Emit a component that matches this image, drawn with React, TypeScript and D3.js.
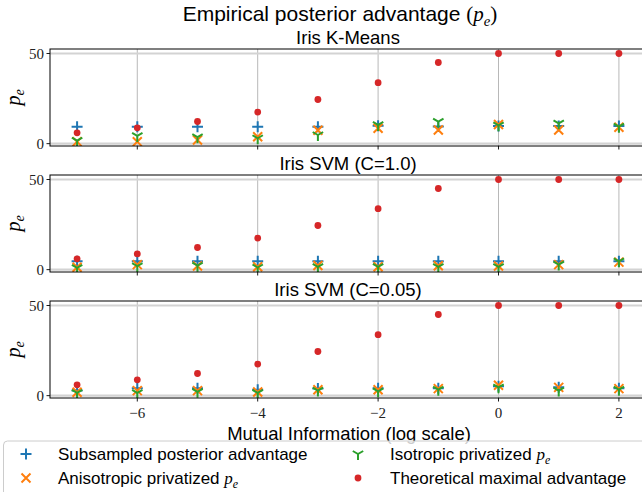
import React from 'react';
import * as d3 from 'd3';

// mutual information (log scale) on x
const xValues = [-7, -6, -5, -4, -3, -2, -1, 0, 1, 2];
const xTicks = [-6, -4, -2, 0, 2];
const yTicks = [0, 50];

const panelTitles = ['Iris K-Means', 'Iris SVM (C=1.0)', 'Iris SVM (C=0.05)'];

// theoretical maximal advantage (same for every panel)
const theoretical = [6.0, 8.8, 12.3, 17.5, 24.5, 33.8, 45.0, 50, 50, 50];

const subsampledKMeans = [9.4, 9.4, 9.4, 9.4, 9.4, 9.9, 9.5, 9.8, 9.8, 9.8];
const anisoKMeans = [1.1, 1.1, 2.0, 3.8, 7.4, 8.5, 7.6, 10.6, 7.6, 9.1];
const isoKMeans = [1.7, 4.3, 3.6, 3.0, 4.8, 10.4, 12.2, 10.2, 11.3, 9.4];

const subsampledSvm1 = [4.6, 4.6, 4.6, 4.6, 4.6, 4.6, 4.6, 4.6, 4.6, 4.6];
const anisoSvm1 = [1.3, 2.8, 2.0, 1.6, 2.3, 1.6, 2.2, 2.0, 2.8, 4.2];
const isoSvm1 = [1.0, 2.0, 2.2, 1.2, 1.6, 1.6, 1.6, 1.6, 2.8, 4.6];

const subsampledSvm005 = [2.8, 4.1, 4.1, 3.3, 3.9, 4.1, 4.1, 5.2, 4.6, 4.1];
const anisoSvm005 = [1.9, 2.8, 2.8, 2.0, 3.3, 3.3, 3.9, 5.8, 4.6, 3.9];
const isoSvm005 = [1.5, 1.5, 2.1, 1.5, 2.8, 2.4, 3.3, 4.6, 2.8, 3.3];

const panels = [
  { title: panelTitles[0], sub: subsampledKMeans, aniso: anisoKMeans, iso: isoKMeans },
  { title: panelTitles[1], sub: subsampledSvm1, aniso: anisoSvm1, iso: isoSvm1 },
  { title: panelTitles[2], sub: subsampledSvm005, aniso: anisoSvm005, iso: isoSvm005 },
];

const W = 642;
const H = 492;
const left = 50;
const right = 646;
const panelTops = [49, 175, 301];
const panelH = 97;

const BLUE = '#1f77b4';
const ORANGE = '#ff7f0e';
const GREEN = '#2ca02c';
const RED = '#d62728';

const sans = '"Liberation Sans", Arial, Helvetica, sans-serif';
const serif = '"Liberation Serif", "DejaVu Serif", serif';

const plusPath = 'M-5.5,0H5.5M0,-5.5V5.5';
const xPath = 'M-4.5,-4.5L4.5,4.5M-4.5,4.5L4.5,-4.5';
const triPath = 'M0,0V6M0,0L-5.2,-3M0,0L5.2,-3';

function PE({ size }: { size: number }) {
  return (
    <>
      <tspan fontFamily={serif} fontStyle="italic">p</tspan>
      <tspan fontFamily={serif} fontStyle="italic" fontSize={size * 0.7} dy={size * 0.22}>e</tspan>
    </>
  );
}

function Panel({ p, top, bottomLabels }: any) {
  const x = d3.scaleLinear().domain([-7.45, 2.45]).range([left, right]);
  const y = d3.scaleLinear().domain([-1.3, 52.5]).range([top + panelH, top]);
  const bottom = top + panelH;
  return (
    <g>
      <defs>
        <clipPath id={'clip' + top}>
          <rect x={left} y={top} width={right - left} height={panelH} />
        </clipPath>
      </defs>
      {/* grid */}
      {xTicks.map((t) => (
        <line key={'gx' + t} x1={x(t)} x2={x(t)} y1={top} y2={bottom} stroke="#b0b0b0" strokeWidth={0.9} />
      ))}
      {yTicks.map((t) => (
        <line key={'gy' + t} x1={left} x2={right} y1={y(t)} y2={y(t)} stroke="#d3d3d3" strokeWidth={2.2} />
      ))}
      <g clipPath={`url(#clip${top})`}>
        {xValues.map((v, i) => (
          <path key={'b' + i} d={plusPath} transform={`translate(${x(v)},${y(p.sub[i])})`} stroke={BLUE} strokeWidth={2} fill="none" />
        ))}
        {xValues.map((v, i) => (
          <path key={'o' + i} d={xPath} transform={`translate(${x(v)},${y(p.aniso[i])})`} stroke={ORANGE} strokeWidth={2} fill="none" />
        ))}
        {xValues.map((v, i) => (
          <path key={'g' + i} d={triPath} transform={`translate(${x(v)},${y(p.iso[i])})`} stroke={GREEN} strokeWidth={2} fill="none" />
        ))}
        {xValues.map((v, i) => (
          <circle key={'r' + i} cx={x(v)} cy={y(theoretical[i])} r={3.4} fill={RED} />
        ))}
      </g>
      {/* spines */}
      <rect x={left} y={top} width={right - left} height={panelH} fill="none" stroke="#000" strokeWidth={1} />
      {/* ticks */}
      {xTicks.map((t) => (
        <line key={'tx' + t} x1={x(t)} x2={x(t)} y1={bottom} y2={bottom + 3.5} stroke="#000" strokeWidth={0.9} />
      ))}
      {yTicks.map((t) => (
        <g key={'ty' + t}>
          <line x1={left - 3.5} x2={left} y1={y(t)} y2={y(t)} stroke="#000" strokeWidth={0.9} />
          <text x={left - 6} y={y(t)} dy="0.35em" textAnchor="end" fontFamily={serif} fontSize={15} fill="#222">
            {t}
          </text>
        </g>
      ))}
      {bottomLabels &&
        xTicks.map((t) => (
          <text key={'lx' + t} x={x(t)} y={bottom + 20} textAnchor="middle" fontFamily={serif} fontSize={15} fill="#222">
            {t < 0 ? '\u2212' + Math.abs(t) : t}
          </text>
        ))}
      <text x={(left + right) / 2} y={top - 5} textAnchor="middle" fontFamily={sans} fontSize={18.5} fill="#000">
        {p.title}
      </text>
      <text transform={`translate(20,${top + panelH / 2}) rotate(-90)`} textAnchor="middle" fontSize={20} fill="#000">
        <PE size={20} />
      </text>
    </g>
  );
}

function LegendMarker({ kind, cx, cy }: any) {
  if (kind === 'plus') return <path d={plusPath} transform={`translate(${cx},${cy})`} stroke={BLUE} strokeWidth={2} fill="none" />;
  if (kind === 'x') return <path d={xPath} transform={`translate(${cx},${cy})`} stroke={ORANGE} strokeWidth={2} fill="none" />;
  if (kind === 'tri') return <path d={triPath} transform={`translate(${cx},${cy})`} stroke={GREEN} strokeWidth={2} fill="none" />;
  return <circle cx={cx} cy={cy} r={3.4} fill={RED} />;
}

export default function App() {
  const legendItems = [
    { kind: 'plus', label: 'Subsampled posterior advantage', math: false, col: 0, row: 0 },
    { kind: 'x', label: 'Anisotropic privatized ', math: true, col: 0, row: 1 },
    { kind: 'tri', label: 'Isotropic privatized ', math: true, col: 1, row: 0 },
    { kind: 'dot', label: 'Theoretical maximal advantage', math: false, col: 1, row: 1 },
  ];
  const colX = [26, 358];
  const rowY = [454, 478];
  return (
    <svg width={W} height={H} style={{ position: 'absolute', left: 0, top: 0, background: '#fff' }}>
      <rect width={W} height={H} fill="#fff" />
      <text x={340} y={21} textAnchor="middle" fontFamily={sans} fontSize={21} fill="#000">
        Empirical posterior advantage <tspan fontFamily={serif}>(</tspan>
        <PE size={21} />
        <tspan fontFamily={serif} dy={-21 * 0.22}>)</tspan>
      </text>
      {panels.map((p, i) => (
        <Panel key={i} p={p} top={panelTops[i]} bottomLabels={i === 2} />
      ))}
      <text x={349} y={440} textAnchor="middle" fontFamily={sans} fontSize={18.5} fill="#000">
        Mutual Information (log scale)
      </text>
      <rect x={3.5} y={441} width={660} height={70} rx={4} fill="#fff" fillOpacity={0.8} stroke="#cccccc" strokeWidth={1} />
      {legendItems.map((it) => (
        <g key={it.label}>
          <LegendMarker kind={it.kind} cx={colX[it.col]} cy={rowY[it.row]} />
          <text x={colX[it.col] + 32} y={rowY[it.row]} dy="0.35em" fontFamily={sans} fontSize={17} fill="#000">
            {it.label}
            {it.math && <PE size={17} />}
          </text>
        </g>
      ))}
    </svg>
  );
}
